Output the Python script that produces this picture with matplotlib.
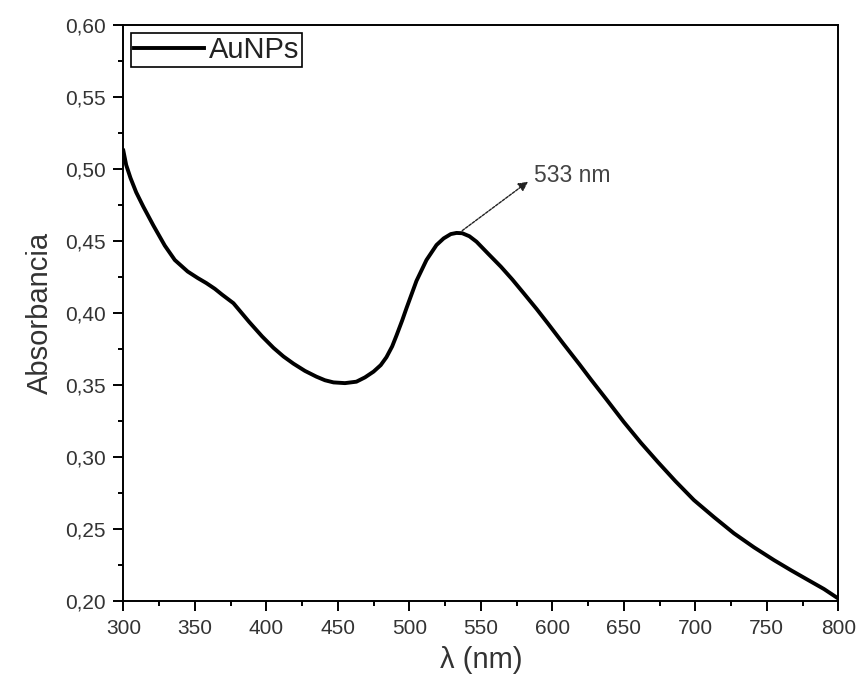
import numpy as np
import matplotlib
matplotlib.use("Agg")
import matplotlib.pyplot as plt
from matplotlib.ticker import MultipleLocator, FuncFormatter

# wavelength (nm) and absorbance
wavelength = [300, 302, 305, 309, 314, 321, 329, 336, 345, 352, 358, 364, 369,
              377, 388, 397, 405, 412, 419, 427, 435, 441, 447, 455, 463, 469,
              475, 480, 484, 488, 491, 495, 498, 505, 512, 519, 524, 529, 533,
              537, 542, 547, 555, 564, 572, 580, 589, 597, 608, 619, 627, 638,
              650, 662, 674, 686, 699, 713, 727, 741, 755, 767, 779, 790, 800]
absorbance = [0.513, 0.503, 0.494, 0.484, 0.474, 0.461, 0.447, 0.437, 0.429,
              0.4245, 0.421, 0.417, 0.413, 0.407, 0.394, 0.384, 0.376, 0.370,
              0.365, 0.360, 0.356, 0.3535, 0.352, 0.3515, 0.3525, 0.3555,
              0.3595, 0.364, 0.3695, 0.377, 0.3845, 0.395, 0.4035, 0.4225,
              0.437, 0.4474, 0.452, 0.455, 0.4558, 0.4556, 0.4535, 0.4497,
              0.4415, 0.4324, 0.4235, 0.4139, 0.403, 0.3928, 0.3785, 0.3645,
              0.354, 0.340, 0.3245, 0.310, 0.2965, 0.2835, 0.2703, 0.2585,
              0.2472, 0.2375, 0.2286, 0.2215, 0.2147, 0.2085, 0.2019]

peak_label = "533 nm"
arrow_from = (537, 0.4574)
arrow_to = (583, 0.4914)
label_pos = (587, 0.496)

plt.rcParams['font.family'] = ['Liberation Sans', 'DejaVu Sans']

fig = plt.figure(figsize=(8.63, 6.85), dpi=100)
ax = fig.add_axes([0.1429, 0.1222, 0.8285, 0.8409])

ax.plot(wavelength, absorbance, color='black', linewidth=2.8, label='AuNPs')

ax.set_xlim(300, 800)
ax.set_ylim(0.20, 0.60)
ax.xaxis.set_major_locator(MultipleLocator(50))
ax.xaxis.set_minor_locator(MultipleLocator(25))
ax.yaxis.set_major_locator(MultipleLocator(0.05))
ax.yaxis.set_minor_locator(MultipleLocator(0.025))
ax.yaxis.set_major_formatter(FuncFormatter(lambda v, p: f"{v:.2f}".replace('.', ',')))

ax.tick_params(which='both', direction='out', top=False, right=False,
               width=1.4, labelsize=15, labelcolor='#333333')
ax.tick_params(which='major', length=7.5, pad=5)
ax.tick_params(which='minor', length=3.8)
for s in ax.spines.values():
    s.set_linewidth(1.4)

ax.set_xlabel('λ (nm)', fontsize=21, color='#333333', labelpad=6)
ax.set_ylabel('Absorbancia', fontsize=21, color='#333333', labelpad=8)

# arrow goes from the peak out to the label
ax.annotate('', xy=arrow_to, xytext=arrow_from,
            arrowprops=dict(arrowstyle='-|>', color='#222222', lw=1.0,
                            linestyle=(0, (2, 1)), shrinkA=0, shrinkB=0,
                            mutation_scale=14))
ax.text(label_pos[0], label_pos[1], peak_label, fontsize=16.5, color='#444444',
        va='center', ha='left')

leg = ax.legend(loc='upper left', fontsize=21, frameon=True, fancybox=False,
                edgecolor='black', borderpad=0.1, handlelength=2.4,
                handletextpad=0.15, borderaxespad=0.28, labelcolor='#222222')
leg.get_frame().set_linewidth(1.2)
leg.get_frame().set_alpha(1)

fig.savefig('out.png', dpi=100)
